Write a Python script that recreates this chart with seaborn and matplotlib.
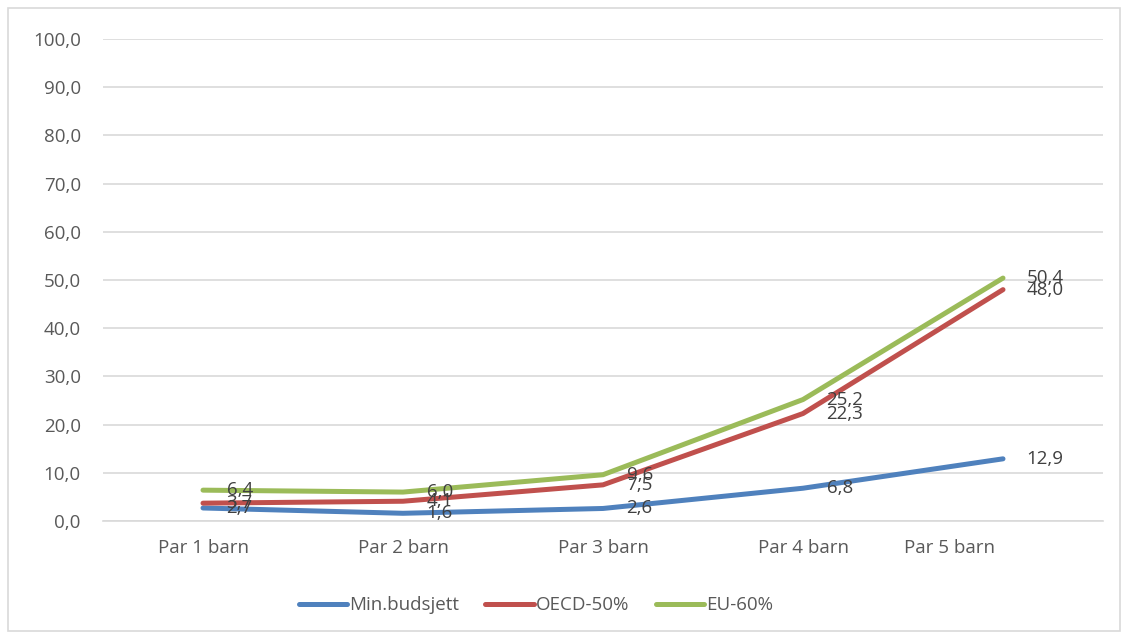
import matplotlib.pyplot as plt
import matplotlib.transforms as mtransforms
from matplotlib.patches import Rectangle
import seaborn as sns
import pandas as pd

categories = ["Par 1 barn", "Par 2 barn", "Par 3 barn", "Par 4 barn", "Par 5 barn"]
min_budsjett = [2.7, 1.6, 2.6, 6.8, 12.9]
oecd_50 = [3.7, 4.1, 7.5, 22.3, 48.0]
eu_60 = [6.4, 6.0, 9.6, 25.2, 50.4]
series_names = ["Min.budsjett", "OECD-50%", "EU-60%"]
colors = ["#4F81BD", "#C0504D", "#9BBB59"]

# long format for seaborn
rows = []
for name, vals in zip(series_names, [min_budsjett, oecd_50, eu_60]):
    for i, v in enumerate(vals):
        rows.append({"pos": i, "kategori": categories[i], "serie": name, "verdi": v})
df = pd.DataFrame(rows)

sns.set_style("white")
plt.rcParams["font.family"] = ["Open Sans", "DejaVu Sans"]
text_color = "#595959"
grid_color = "#d9d9d9"
fs = 13.5
lw = 3.6

fig = plt.figure(figsize=(11.26, 6.37), dpi=100)
ax = fig.add_axes([103 / 1126, 1 - 521 / 637, 1000 / 1126, 482 / 637])

sns.lineplot(data=df, x="pos", y="verdi", hue="serie", hue_order=series_names,
             palette=colors, linewidth=lw, ax=ax, legend=False,
             solid_capstyle="round", solid_joinstyle="round")

# data labels to the right of each point
for name, vals in zip(series_names, [min_budsjett, oecd_50, eu_60]):
    for i, v in enumerate(vals):
        ax.annotate(f"{v:.1f}".replace(".", ","), (i, v), xytext=(17, 0),
                    textcoords="offset points", ha="left", va="center",
                    fontsize=fs, color="#404040")

ax.set_xlim(-0.5, 4.5)
ax.set_ylim(0, 100)
ax.set_yticks(range(0, 101, 10))
ax.set_yticklabels([f"{t},0" for t in range(0, 101, 10)])
ax.set_xticks(range(len(categories)))
ax.set_xticklabels(categories)
ax.set_xlabel("")
ax.set_ylabel("")
ax.yaxis.grid(True, color=grid_color, linewidth=1.2)
ax.set_axisbelow(True)
ax.tick_params(axis="both", length=0, labelsize=fs, labelcolor=text_color)
ax.tick_params(axis="x", pad=13)
ax.tick_params(axis="y", pad=16)

for side in ["left", "right", "top"]:
    ax.spines[side].set_visible(False)
ax.spines["bottom"].set_color(grid_color)
ax.spines["bottom"].set_linewidth(1.2)

# last category label sits a bit to the left in the original
last = ax.get_xticklabels()[-1]
last.set_transform(last.get_transform() +
                   mtransforms.ScaledTranslation(-0.53, 0, fig.dpi_scale_trans))

handles = [plt.Line2D([0], [0], color=c, linewidth=lw, solid_capstyle="round")
           for c in colors]
leg = fig.legend(handles, series_names, loc="center", bbox_to_anchor=(0.476, 0.05),
                 ncol=3, frameon=False, fontsize=fs, handlelength=2.6,
                 handletextpad=0.1, columnspacing=1.4)
for t in leg.get_texts():
    t.set_color(text_color)

fig.patches.append(Rectangle((8 / 1126, 6 / 637), 1112 / 1126, 623 / 637,
                             transform=fig.transFigure, fill=False,
                             edgecolor=grid_color, linewidth=1.2))

fig.savefig("out.png", dpi=100)
